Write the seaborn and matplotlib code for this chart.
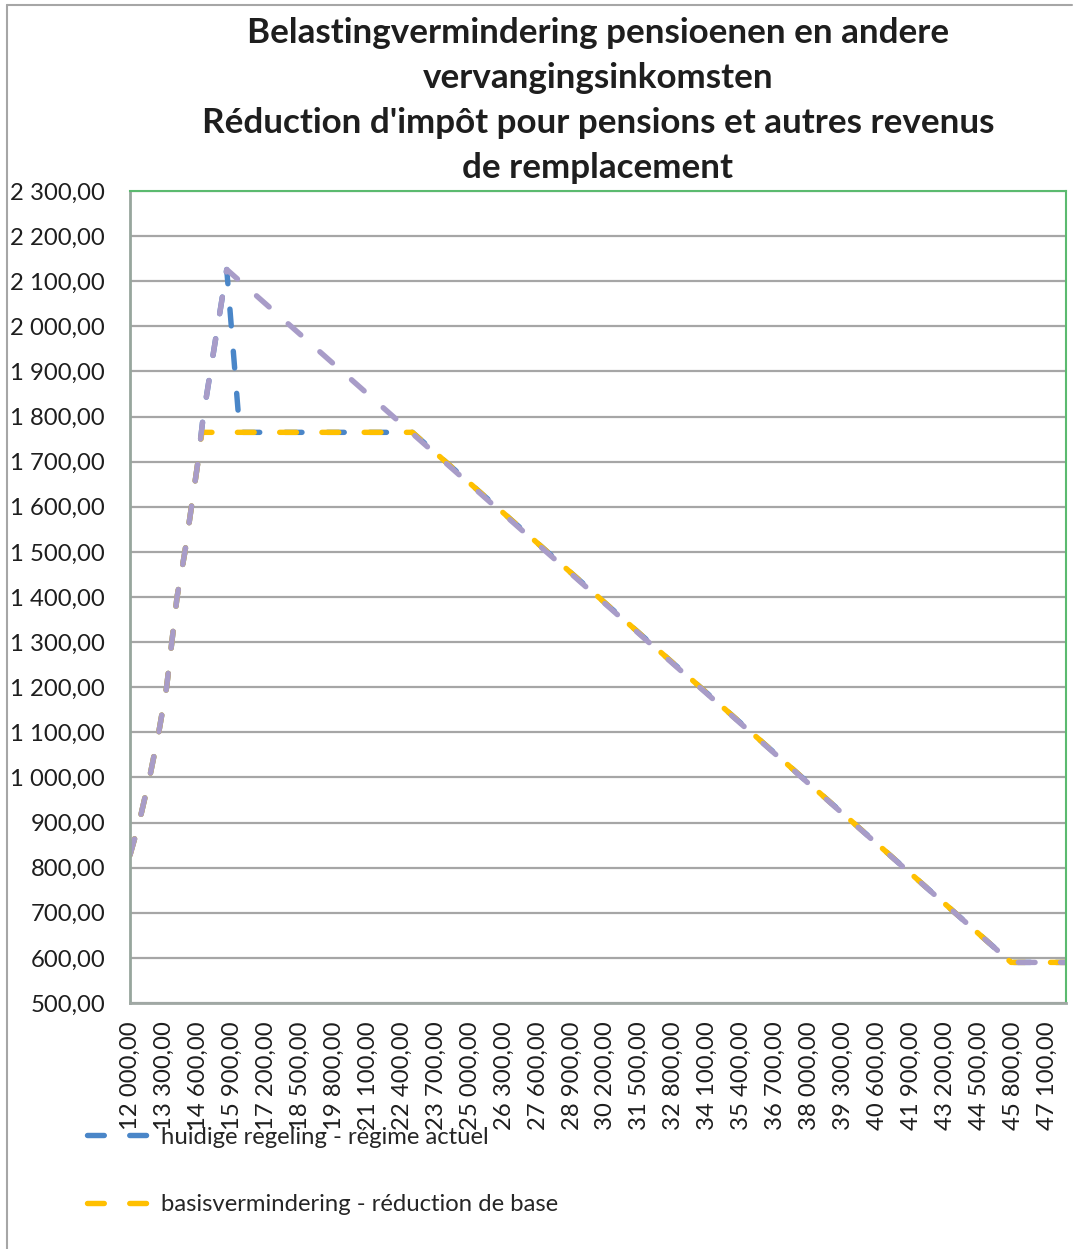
# ============================================================
# plot.py — belastingvermindering pensioenen / réduction d'impôt
# ============================================================
"""
Tax reduction for pensions and other replacement income,
current regime vs basic reduction, per taxable income.
"""

import logging

import matplotlib
matplotlib.use('Agg')
import matplotlib.pyplot as plt
from matplotlib.lines import Line2D
from matplotlib.ticker import MultipleLocator, FixedLocator, FuncFormatter
import seaborn as sns

logging.basicConfig(level=logging.INFO, format='%(asctime)s [%(levelname)s] %(message)s')
logger = logging.getLogger(__name__)

# ============================================================
# DATA (breakpoints of each curve)
# ============================================================
income_actual = [12000, 12350, 12750, 13100, 13400, 13600, 13800, 14100, 14350,
                 14600, 14800, 15700, 16200, 22800, 45700, 47800]
reduction_actual = [828, 900, 1000, 1100, 1200, 1300, 1400, 1500, 1600,
                    1700, 1800, 2126, 1765, 1765, 590, 590]

income_base = [12000, 12350, 12750, 13100, 13400, 13600, 13800, 14100, 14350,
               14600, 14750, 22800, 45700, 47800]
reduction_base = [828, 900, 1000, 1100, 1200, 1300, 1400, 1500, 1600,
                  1700, 1765, 1765, 590, 590]

income_other = [12000, 12350, 12750, 13100, 13400, 13600, 13800, 14100, 14350,
                14600, 14800, 15700, 45700, 47800]
reduction_other = [828, 900, 1000, 1100, 1200, 1300, 1400, 1500, 1600,
                   1700, 1800, 2126, 590, 590]

income_ticks = list(range(12000, 47101, 1300))

title_lines = [
    'Belastingvermindering pensioenen en andere',
    'vervangingsinkomsten',
    "Réduction d'impôt pour pensions et autres revenus",
    'de remplacement',
]
legend_labels = [
    'huidige regeling - régime actuel',
    'basisvermindering - réduction de base',
]

# ============================================================
# STYLE
# ============================================================
W, H = 1074, 1249
BLUE = '#4A86C8'
GOLD = '#FFC000'
PURPLE = '#A89CC8'
GRID = '#A6A6A6'
GREEN = '#5BBA6F'
TEXT = '#1E1E1E'
FONT_SIZE = 17.2
LW = 3.9
DASH = (0, (3.1, 4.7))

sns.set_style('white')
plt.rcParams['font.family'] = ['Lato', 'DejaVu Sans']


def be_number(v, pos=None):
    # 2300 -> "2 300,00"
    s = f'{v:,.2f}'
    return s.replace(',', ' ').replace('.', ',')


def main():
    logger.info('main() called')
    fig = plt.figure(figsize=(W / 100, H / 100), dpi=100)
    ax = fig.add_axes([130 / W, 1 - 1003 / H, (1066 - 130) / W, (1003 - 191) / H])

    series = [
        (income_actual, reduction_actual, BLUE),
        (income_base, reduction_base, GOLD),
        (income_other, reduction_other, PURPLE),
    ]
    for xs, ys, col in series:
        sns.lineplot(x=xs, y=ys, ax=ax, color=col, linewidth=LW, linestyle=DASH,
                     dash_capstyle='round', sort=False, estimator=None)

    # axes
    ax.set_xlim(12000, 47800)
    ax.set_ylim(500, 2300)
    ax.yaxis.set_major_locator(MultipleLocator(100))
    ax.yaxis.set_major_formatter(FuncFormatter(be_number))
    ax.xaxis.set_major_locator(FixedLocator(income_ticks))
    ax.xaxis.set_minor_locator(MultipleLocator(100))
    ax.xaxis.set_major_formatter(FuncFormatter(be_number))
    ax.tick_params(axis='x', which='both', direction='out', length=6, width=1,
                   color='#A0A8A4', labelrotation=90, labelsize=FONT_SIZE,
                   labelcolor=TEXT, pad=7)
    ax.tick_params(axis='y', direction='out', length=6, width=1.5, color=GRID,
                   labelsize=FONT_SIZE, labelcolor=TEXT, pad=12)
    ax.set_xlabel('')
    ax.set_ylabel('')
    ax.grid(axis='y', color=GRID, linewidth=1.6)
    ax.grid(axis='x', visible=False)
    ax.set_axisbelow(True)

    ax.spines['left'].set_color('#97A69D')
    ax.spines['left'].set_linewidth(2)
    ax.spines['bottom'].set_color('#A0A8A4')
    ax.spines['bottom'].set_linewidth(2)
    for side in ('top', 'right'):
        ax.spines[side].set_color(GREEN)
        ax.spines[side].set_linewidth(1.5)

    # title, one text per line
    for i, line in enumerate(title_lines):
        fig.text(598 / W, 1 - (43 + 45 * i) / H, line, ha='center', va='baseline',
                 fontsize=25.2, fontweight='bold', color=TEXT)

    # legend (only two entries are visible in the original)
    handles = [Line2D([], [], color=c, linewidth=LW, linestyle=DASH, dash_capstyle='round')
               for c in (BLUE, GOLD)]
    fig.legend(handles, legend_labels, loc='upper left',
               bbox_to_anchor=(82 / W, 1 - 1122 / H), frameon=False,
               fontsize=FONT_SIZE, handlelength=2.8, handletextpad=0.3,
               labelspacing=1.95, borderaxespad=0, borderpad=0.2)

    # chart area border (left and top edges visible)
    fig.add_artist(Line2D([7 / W, 7 / W], [0, 1 - 5 / H], color='#A6A6A6', linewidth=1.5))
    fig.add_artist(Line2D([7 / W, 1072 / W], [1 - 5 / H, 1 - 5 / H], color='#A6A6A6', linewidth=1.5))

    fig.savefig('out.png', dpi=100)
    logger.info('out.png saved')


if __name__ == '__main__':
    main()
